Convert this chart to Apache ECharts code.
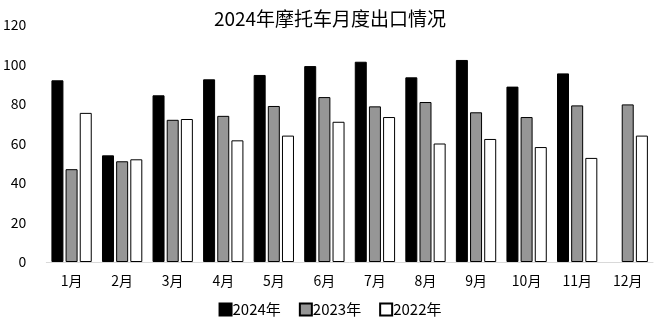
<!DOCTYPE html>
<html><head><meta charset="utf-8">
<script src="https://cdn.jsdelivr.net/npm/echarts@6/dist/echarts.min.js"></script>
<style>html,body{margin:0;padding:0;background:#fff}#c{width:660px;height:323px}</style>
</head><body><div id="c"></div>
<script>
var months = ['1月','2月','3月','4月','5月','6月','7月','8月','9月','10月','11月','12月'];
var y2024 = [92, 54, 84.4, 92.5, 94.7, 99.2, 101.4, 93.5, 102.3, 88.8, 95.5, null];
var y2023 = [47, 51, 72, 74, 79, 83.5, 78.8, 81, 75.8, 73.4, 79.3, 79.8];
var y2022 = [75.5, 52, 72.4, 61.6, 64, 71, 73.4, 60, 62.3, 58.2, 52.7, 64];
var yTicks = [0, 20, 40, 60, 80, 100, 120];
var font = '"Noto Sans CJK SC", "Microsoft YaHei", sans-serif';
var chart = echarts.init(document.getElementById('c'), null, {renderer: 'canvas'});
chart.setOption({
  animation: false,
  backgroundColor: '#fff',
  title: {text: '2024年摩托车月度出口情况', left: 'center', top: 4,
    textStyle: {fontFamily: font, fontSize: 19, fontWeight: 'normal', color: '#000'}},
  legend: {bottom: 1, left: 'center', itemWidth: 12, itemHeight: 12, itemGap: 18,
    textStyle: {fontFamily: font, fontSize: 15, color: '#000', padding: [0,0,0,-4]},
    data: [
      {name: '2024年', icon: 'rect'},
      {name: '2023年', icon: 'rect'},
      {name: '2022年', icon: 'rect'}
    ]},
  grid: {left: 42, right: 7, top: 25, bottom: 61},
  xAxis: {type: 'category', data: months,
    axisLine: {lineStyle: {color: '#d9d9d9'}}, axisTick: {show: false},
    axisLabel: {fontFamily: font, fontSize: 14, color: '#000', margin: 12}},
  yAxis: {type: 'value', min: 0, max: 120, interval: 20,
    axisLine: {show: false}, axisTick: {show: false}, splitLine: {show: false},
    axisLabel: {fontFamily: font, fontSize: 14, color: '#000', margin: 20}},
  series: [
    {name: '2024年', type: 'bar', data: y2024, barWidth: 12, barGap: '18%',
      itemStyle: {color: '#000', borderColor: '#000', borderWidth: 1}},
    {name: '2023年', type: 'bar', data: y2023, barWidth: 12,
      itemStyle: {color: '#969696', borderColor: '#000', borderWidth: 1}},
    {name: '2022年', type: 'bar', data: y2022, barWidth: 12,
      itemStyle: {color: '#fff', borderColor: '#000', borderWidth: 1}}
  ]
});
</script></body></html>
